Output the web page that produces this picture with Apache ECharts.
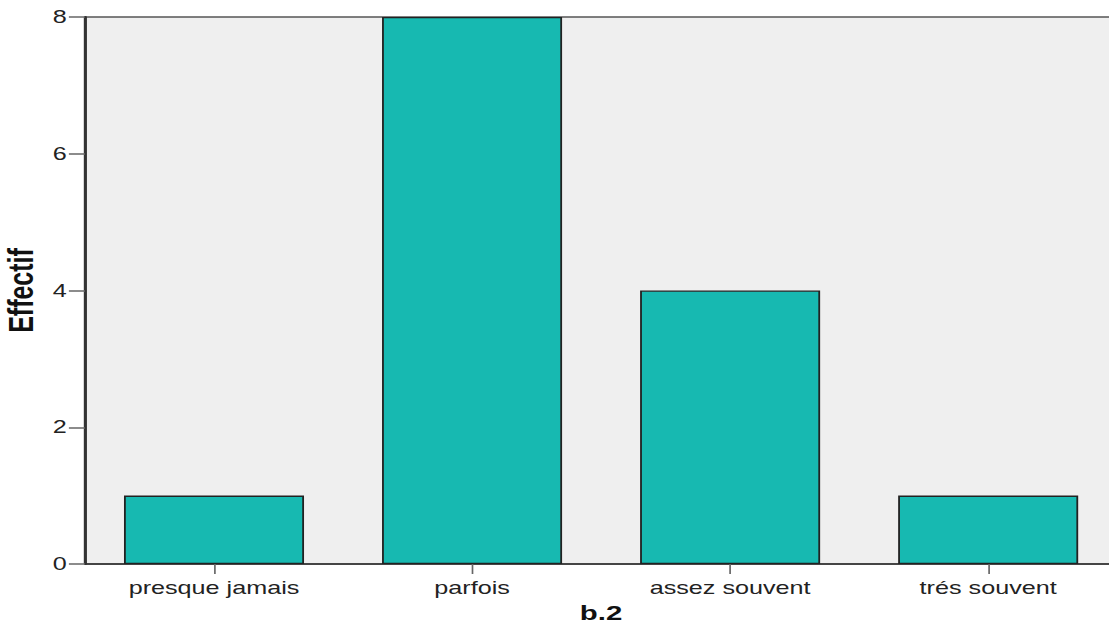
<!DOCTYPE html>
<html><head><meta charset="utf-8">
<script src="https://cdn.jsdelivr.net/npm/echarts@6/dist/echarts.min.js"></script>
<style>
html,body{margin:0;padding:0;background:#fff;overflow:hidden;width:1109px;height:630px}
#c{width:798px;height:630px;transform:scaleX(1.4);transform-origin:0 0}
</style>
</head><body><div id="c"></div>
<script>
const categories = ['presque jamais', 'parfois', 'assez souvent', 'trés souvent'];
const counts = [1, 8, 4, 1];
const yTicks = [0, 2, 4, 6, 8];

// the reference image is horizontally stretched; the chart is drawn narrower and scaled by 1.4 in x
const chart = echarts.init(document.getElementById('c'), null, {renderer: 'svg'});
chart.setOption({
  animation: false,
  grid: {left: 60.7, top: 17, right: 0, height: 547, outerBoundsMode: 'none', containLabel: false,
         show: true, backgroundColor: '#efefef', borderColor: '#555', borderWidth: 1.5},
  xAxis: {
    type: 'category', data: categories,
    name: 'b.2', nameLocation: 'middle', nameGap: 37,
    nameTextStyle: {fontFamily: 'Liberation Sans', fontWeight: 'bold', fontSize: 21, color: '#111'},
    axisLine: {show: true, lineStyle: {color: '#333', width: 1.5}},
    axisTick: {show: true, alignWithLabel: true, length: 10, lineStyle: {color: '#666', width: 1.2}},
    axisLabel: {fontFamily: 'Liberation Sans', fontSize: 18, color: '#222', margin: 15}
  },
  yAxis: {
    type: 'value', min: yTicks[0], max: yTicks[yTicks.length - 1], interval: 2,
    name: 'Effectif', nameLocation: 'middle', nameGap: 31,
    nameTextStyle: {fontFamily: 'Liberation Sans', fontWeight: 'bold', fontSize: 25, color: '#111'},
    axisLine: {show: true, lineStyle: {color: '#333', width: 2.2}},
    axisTick: {show: true, length: 11.5, lineStyle: {color: '#666', width: 1.5}},
    axisLabel: {fontFamily: 'Liberation Sans', fontSize: 18, color: '#222', margin: 13},
    splitLine: {show: false}
  },
  series: [{
    type: 'bar', data: counts, barWidth: 128.6,
    itemStyle: {color: '#17b9b1', borderColor: '#222', borderWidth: 1.3}
  }]
});
</script></body></html>
